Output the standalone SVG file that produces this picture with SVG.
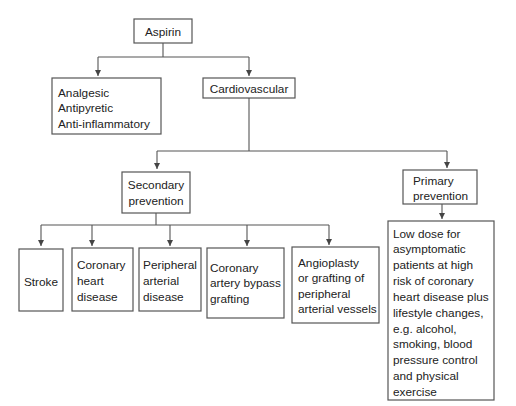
<svg xmlns="http://www.w3.org/2000/svg" width="516" height="406" viewBox="0 0 516 406">
<style>
.box{fill:#fff;stroke:#555;stroke-width:1.2}
.t{font-family:"Liberation Sans",Arial,sans-serif;font-size:11.8px;fill:#222}
.c{text-anchor:middle}
.ln{fill:none;stroke:#555;stroke-width:1.1}
.ar{fill:none;stroke:#555;stroke-width:1.1;marker-end:url(#ah)}
</style>
<defs>
<marker id="ah" viewBox="0 0 6 6" refX="6" refY="3" markerWidth="6" markerHeight="6" markerUnits="userSpaceOnUse" orient="auto">
<path d="M0,0 L6,3 L0,6 z" fill="#444"/>
</marker>
</defs>
<rect width="516" height="406" fill="#fff"/>
<g id="connectors">
<path class="ln" d="M163,43 V57 M98,57 H249"/>
<path class="ar" d="M98,57 V76"/>
<path class="ar" d="M249,57 V76"/>
<path class="ln" d="M249,98 V151 M157,151 H447"/>
<path class="ar" d="M157,151 V169"/>
<path class="ar" d="M447,151 V168"/>
<path class="ln" d="M156,213 V225 M41,225 H329"/>
<path class="ar" d="M41,225 V246"/>
<path class="ar" d="M92,225 V246"/>
<path class="ar" d="M170,225 V246"/>
<path class="ar" d="M247,225 V246"/>
<path class="ar" d="M329,225 V245"/>
<path class="ar" d="M442,204 V219"/>
</g>
<g id="aspirin">
<rect class="box" x="134" y="19" width="58" height="24"/>
<text class="t c" x="163" y="35.5">Aspirin</text>
</g>
<g id="analgesic">
<rect class="box" x="52" y="78" width="109" height="56"/>
<text class="t" x="58" y="97">Analgesic</text>
<text class="t" x="58" y="112">Antipyretic</text>
<text class="t" x="58" y="128">Anti-inflammatory</text>
</g>
<g id="cardiovascular">
<rect class="box" x="203" y="78" width="92" height="20"/>
<text class="t c" x="249" y="92.5">Cardiovascular</text>
</g>
<g id="secondary">
<rect class="box" x="122" y="172" width="68" height="41"/>
<text class="t c" x="156" y="189">Secondary</text>
<text class="t c" x="156" y="205">prevention</text>
</g>
<g id="primary">
<rect class="box" x="403" y="170" width="74" height="34"/>
<text class="t" x="413" y="185">Primary</text>
<text class="t" x="413" y="200">prevention</text>
</g>
<g id="stroke">
<rect class="box" x="19" y="249" width="44" height="62"/>
<text class="t c" x="41" y="286">Stroke</text>
</g>
<g id="chd">
<rect class="box" x="72" y="248" width="61" height="63"/>
<text class="t" x="77" y="269">Coronary</text>
<text class="t" x="77" y="285">heart</text>
<text class="t" x="77" y="301">disease</text>
</g>
<g id="pad">
<rect class="box" x="139" y="248" width="62" height="63"/>
<text class="t" x="143" y="269" textLength="54" lengthAdjust="spacingAndGlyphs">Peripheral</text>
<text class="t" x="143" y="285">arterial</text>
<text class="t" x="143" y="301">disease</text>
</g>
<g id="cabg">
<rect class="box" x="207" y="248" width="77" height="70"/>
<text class="t" x="210" y="272">Coronary</text>
<text class="t" x="210" y="287">artery bypass</text>
<text class="t" x="210" y="303">grafting</text>
</g>
<g id="angio">
<rect class="box" x="292" y="247" width="87" height="76"/>
<text class="t" x="298" y="267">Angioplasty</text>
<text class="t" x="298" y="282">or grafting of</text>
<text class="t" x="298" y="298">peripheral</text>
<text class="t" x="298" y="313">arterial vessels</text>
</g>
<g id="lowdose">
<rect class="box" x="388" y="221" width="106" height="179"/>
<text class="t" x="393" y="238">Low dose for</text>
<text class="t" x="393" y="253">asymptomatic</text>
<text class="t" x="393" y="269">patients at high</text>
<text class="t" x="393" y="285">risk of coronary</text>
<text class="t" x="393" y="301">heart disease plus</text>
<text class="t" x="393" y="317">lifestyle changes,</text>
<text class="t" x="393" y="333">e.g. alcohol,</text>
<text class="t" x="393" y="348">smoking, blood</text>
<text class="t" x="393" y="364">pressure control</text>
<text class="t" x="393" y="380">and physical</text>
<text class="t" x="393" y="396">exercise</text>
</g>
</svg>
